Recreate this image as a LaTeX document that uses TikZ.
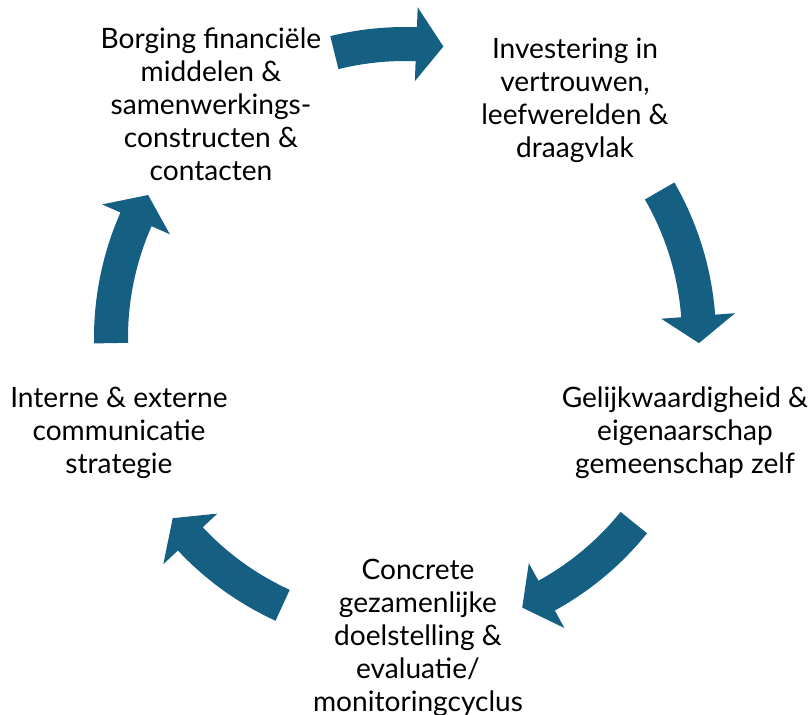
\documentclass[tikz,border=0pt]{standalone}
\usepackage{fontspec}
\setmainfont{Lato}
\usepackage{tikz}
\usetikzlibrary{positioning}

\definecolor{cycleblue}{HTML}{156082}

% ring geometry (picture units)
\newcommand{\rmid}{294}
\newcommand{\rout}{311}
\newcommand{\rin}{277}
\newcommand{\rhout}{331}
\newcommand{\rhin}{257}
\newcommand{\headang}{5.3}

% curved block arrow from tail angle #1 to tip angle #2 (clockwise)
\newcommand{\ringarrow}[2]{%
  \pgfmathsetmacro{\hb}{#2+\headang}
  \fill[ringfill] (#1:\rout) arc[start angle=#1, end angle=\hb, radius=\rout]
    -- (\hb:\rhout) -- (#2:\rmid) -- (\hb:\rhin) -- (\hb:\rin)
    arc[start angle=\hb, end angle=#1, radius=\rin] -- cycle;
}

\begin{document}
\begin{tikzpicture}[
    x=0.02cm, y=0.02cm,
    stage/.style={align=center, font=\fontsize{16}{18.8}\selectfont, text=black, inner sep=0pt},
    ringfill/.style={fill=cycleblue}
]
    \useasboundingbox (-405,-377) rectangle (406,338);

    \node[stage] (borging) at (-194,234) {Borging financiële\\middelen \&\\samenwerkings-\\constructen \&\\contacten};
    \node[stage] (invest) at (170,238) {Investering in\\vertrouwen,\\leefwerelden \&\\draagvlak};
    \node[stage] (gelijk) at (280,-95) {Gelijkwaardigheid \&\\eigenaarschap\\gemeenschap zelf};
    \node[stage] (doel) at (13,-300) {Concrete\\gezamenlijke\\doelstelling \&\\evaluatie/\\monitoringcyclus};
    \node[stage] (comm) at (-286,-95) {Interne \& externe\\communicatie\\strategie};

    \ringarrow{103.9}{82.5}
    \ringarrow{30}{-1}
    \ringarrow{-38.9}{-66.5}
    \ringarrow{-114.6}{-142.2}
    \ringarrow{181}{150.9}
\end{tikzpicture}
\end{document}
